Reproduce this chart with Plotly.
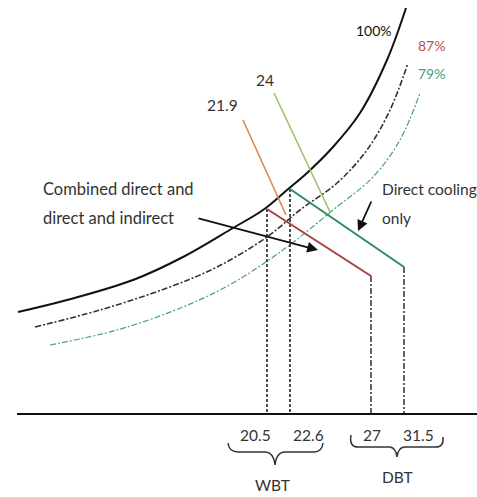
import plotly.graph_objects as go

# ---- schematic data (diagram space: x to the right, y downward, 477 x 497) ----
rh_labels = ["100%", "87%", "79%"]
rh_colors = ["#111111", "#c0504d", "#3f9f7c"]
rh100_x = [18, 67, 133, 183, 233, 263, 287, 307, 333, 360, 387, 406]
rh100_y = [312, 300, 280, 257, 228, 210, 190, 173, 147, 113, 60, 8]
rh87_x = [35, 100, 167, 217, 267, 300, 337, 367, 390, 408]
rh87_y = [327, 310, 288, 267, 237, 210, 183, 150, 110, 63]
rh79_x = [50, 117, 183, 233, 287, 333, 373, 400, 420]
rh79_y = [345, 330, 307, 283, 247, 210, 177, 140, 93]

wbt_values = ["20.5", "22.6"]
dbt_values = ["27", "31.5"]
wb_line_labels = ["21.9", "24"]

# process lines
wb219_x = [243, 286]
wb219_y = [120, 215]
wb24_x = [274, 330]
wb24_y = [93, 212]
combined_x = [267, 371]
combined_y = [209, 276]
direct_x = [290, 404]
direct_y = [189, 267]

fig = go.Figure()

def line(x, y, color, width, dash="solid", shape="linear"):
    fig.add_trace(go.Scatter(x=x, y=y, mode="lines",
                             line=dict(color=color, width=width, dash=dash, shape=shape,
                                       smoothing=1.0 if shape == "spline" else None),
                             hoverinfo="skip", showlegend=False))

# RH curves
line(rh100_x, rh100_y, "#111111", 2, "solid", "spline")
line(rh87_x, rh87_y, "#333333", 1.6, "6px,2px,2px,2px", "spline")
line(rh79_x, rh79_y, "#4aa07e", 1.2, "6px,2px,2px,2px", "spline")

# wet bulb lines
line(wb219_x, wb219_y, "#d98a50", 1.6)
line(wb24_x, wb24_y, "#9cc46a", 1.6)

# vertical projection lines
axis_y = 414
line([combined_x[0], combined_x[0]], [combined_y[0], axis_y], "#222222", 1.6, "3px,2px")
line([direct_x[0], direct_x[0]], [direct_y[0], axis_y], "#222222", 1.6, "3px,2px")
line([combined_x[1], combined_x[1]], [combined_y[1], axis_y], "#222222", 1.4, "6px,2px,2px,2px")
line([direct_x[1], direct_x[1]], [direct_y[1], axis_y], "#222222", 1.4, "6px,2px,2px,2px")

# process lines
line(combined_x, combined_y, "#a8403a", 2)
line(direct_x, direct_y, "#2f8a5c", 2)

# axis
line([17, 477], [axis_y, axis_y], "#111111", 2)

font = "Lato, Open Sans, sans-serif"
ann = []
def txt(x, y, s, color="#333333", size=15.5, xanchor="center"):
    ann.append(dict(x=x, y=y, text=s, showarrow=False, xref="x", yref="y",
                    xanchor=xanchor, yanchor="middle",
                    font=dict(family=font, size=size, color=color)))

# RH labels
txt(374, 30, rh_labels[0], rh_colors[0], 14)
txt(431, 45, rh_labels[1], rh_colors[1], 14)
txt(431, 73, rh_labels[2], rh_colors[2], 14)

# wet bulb line labels
txt(222, 105, wb_line_labels[0])
txt(265, 80, wb_line_labels[1])

# descriptions
txt(41, 189, "Combined direct and", size=16.5, xanchor="left")
txt(41, 218, "direct and indirect", size=16.5, xanchor="left")
txt(380, 189, "Direct cooling", size=15.5, xanchor="left")
txt(380, 218, "only", size=15.5, xanchor="left")

# tick labels
txt(255, 435, wbt_values[0])
txt(308, 435, wbt_values[1])
txt(372, 435, dbt_values[0])
txt(418, 435, dbt_values[1])
txt(272, 485, "WBT")
txt(397, 477, "DBT")

# arrows
ann.append(dict(x=318, y=250, ax=197, ay=218, xref="x", yref="y", axref="x", ayref="y",
                showarrow=True, arrowhead=2, arrowsize=1.2, arrowwidth=1.8, arrowcolor="#111111", text=""))
ann.append(dict(x=358, y=231, ax=372, ay=200, xref="x", yref="y", axref="x", ayref="y",
                showarrow=True, arrowhead=2, arrowsize=1.2, arrowwidth=1.8, arrowcolor="#111111", text=""))

shapes = [
    dict(type="path", xref="x", yref="y",
         path="M 228,443 Q 229,452 238,452 L 266,452 Q 274,453 275,465 Q 276,453 284,452 L 314,452 Q 322,452 323,443",
         line=dict(color="#333333", width=1.5)),
    dict(type="path", xref="x", yref="y",
         path="M 351,435 Q 349,447 358,447 L 390,447 Q 396,448 397,457 Q 398,448 404,447 L 436,447 Q 444,447 443,437",
         line=dict(color="#333333", width=1.5)),
]

fig.update_layout(
    width=477, height=497, margin=dict(l=0, r=0, t=0, b=0),
    paper_bgcolor="white", plot_bgcolor="white",
    xaxis=dict(range=[0, 477], visible=False, fixedrange=True),
    yaxis=dict(range=[497, 0], visible=False, fixedrange=True),
    annotations=ann, shapes=shapes, showlegend=False,
)

fig.write_html("out.html", config={"displayModeBar": False},
               post_script="document.body.style.margin='0';document.body.style.overflow='hidden';")
